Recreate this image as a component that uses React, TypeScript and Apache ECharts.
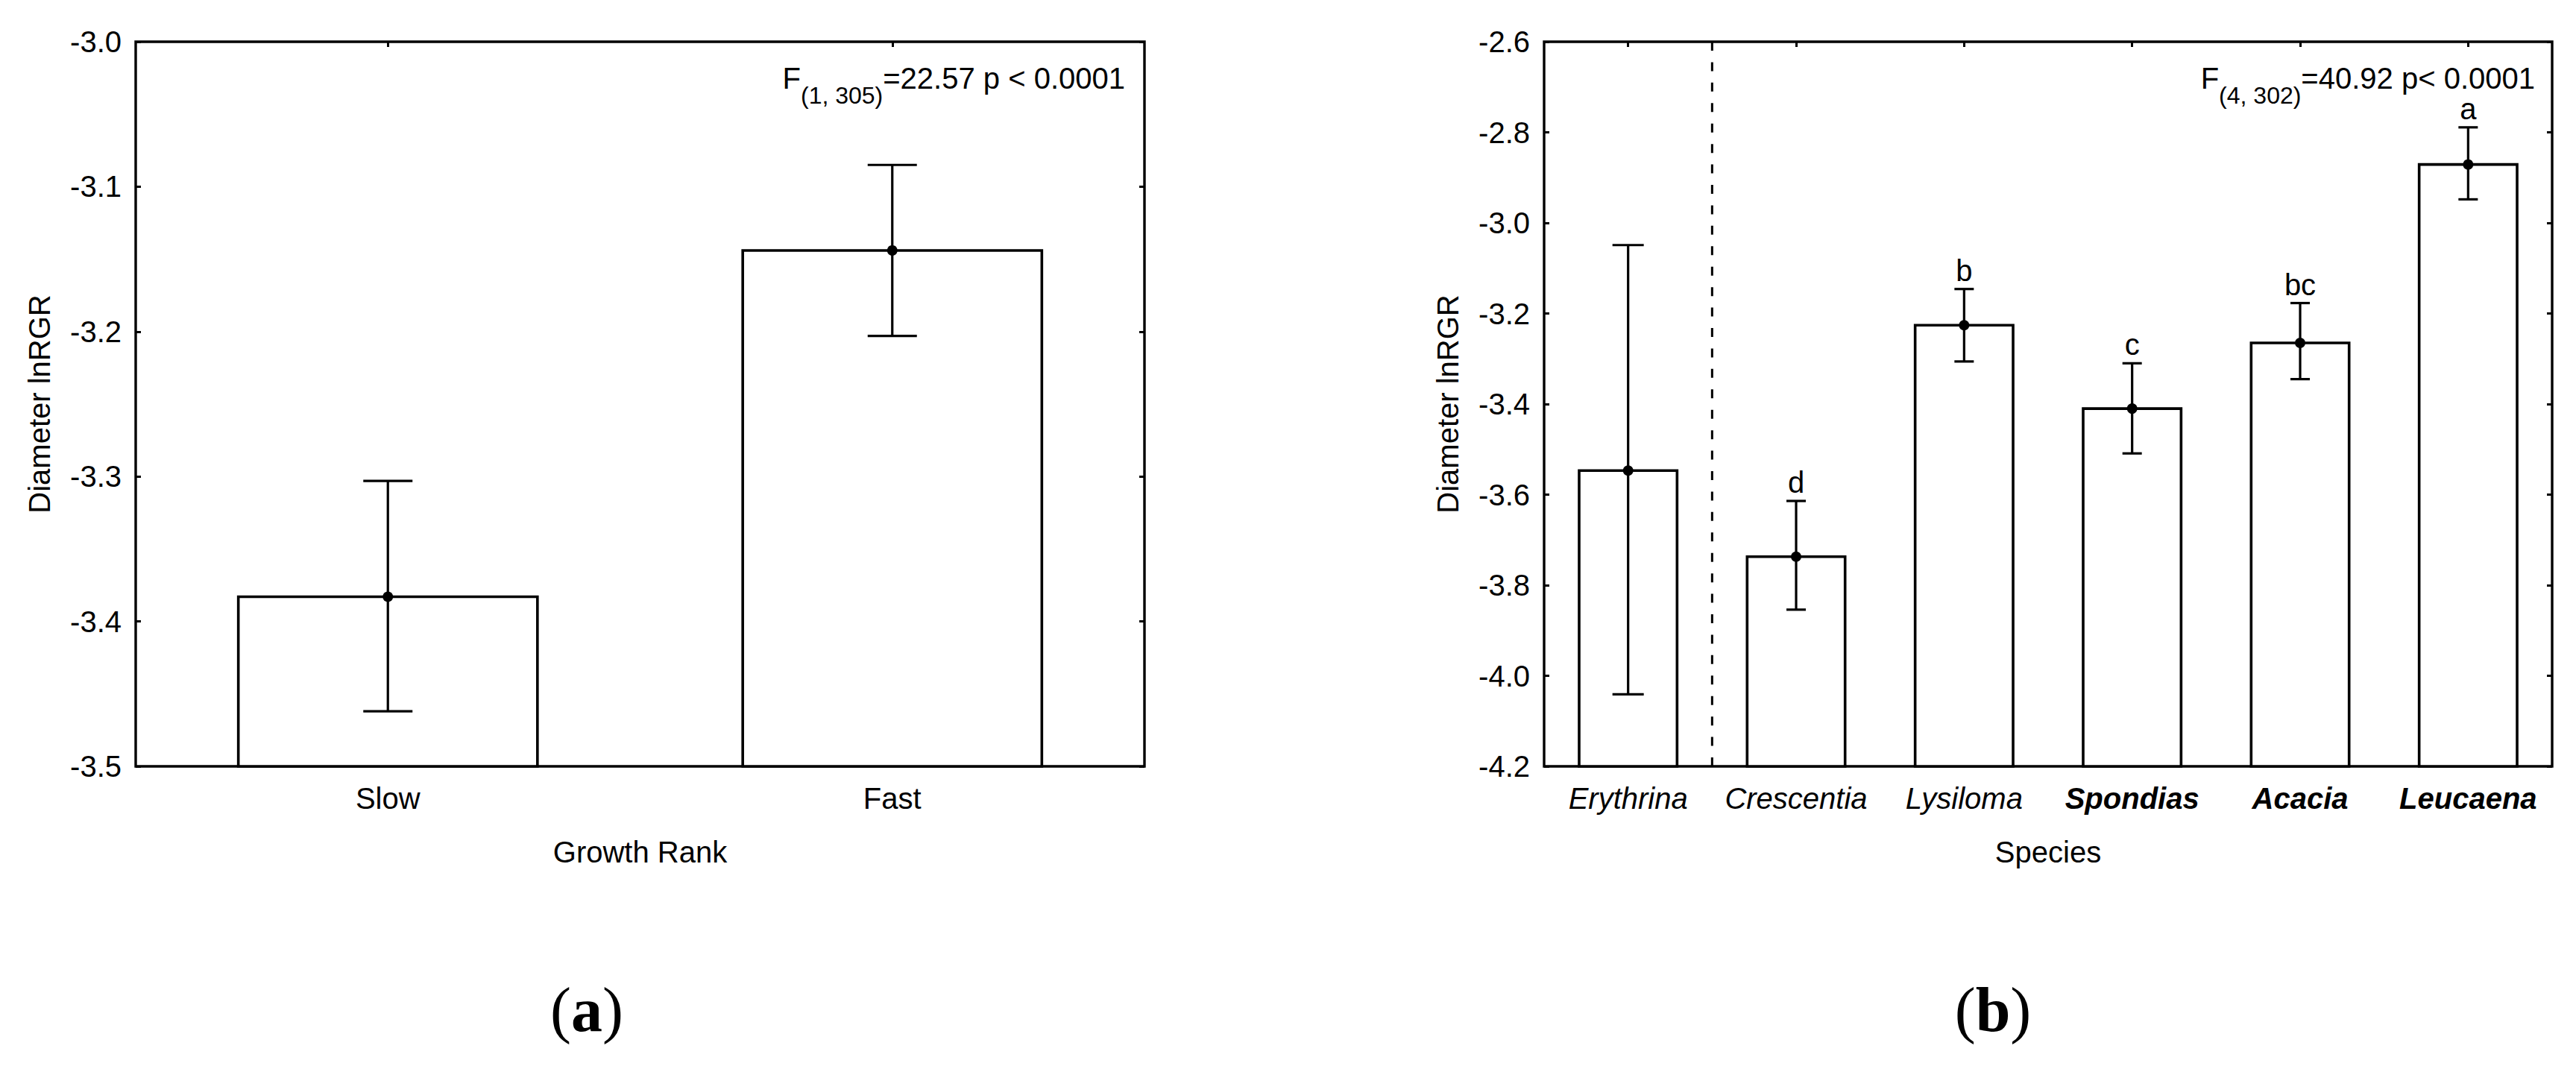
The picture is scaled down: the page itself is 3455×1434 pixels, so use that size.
import React, { useEffect, useRef } from 'react';
import * as echarts from 'echarts';

// ---------- Data: panel (a) ----------
const categoriesA = ['Slow', 'Fast'];
const meansA = [-3.383, -3.144];
const lowerA = [-3.462, -3.203];
const upperA = [-3.303, -3.085];
const yMinA = -3.5;
const yMaxA = -3.0;
const yStepA = 0.1;

// ---------- Data: panel (b) ----------
const categoriesB = ['Erythrina', 'Crescentia', 'Lysiloma', 'Spondias', 'Acacia', 'Leucaena'];
const meansB = [-3.547, -3.737, -3.226, -3.41, -3.265, -2.871];
const lowerB = [-4.041, -3.854, -3.306, -3.509, -3.345, -2.948];
const upperB = [-3.049, -3.614, -3.146, -3.31, -3.177, -2.789];
const lettersB = ['', 'd', 'b', 'c', 'bc', 'a'];
const boldB = ['Spondias', 'Acacia', 'Leucaena'];
const dividerAfterB = ['Erythrina'];
const yMinB = -4.2;
const yMaxB = -2.6;
const yStepB = 0.2;

// ---------- Styles ----------
const FONT = 'Liberation Sans';
const SERIF = 'Liberation Serif';
const FS = 40;
const W = 3455;
const H = 1434;

function makeRender(yMin: number, barFrac: number, capW: (cat: string) => number, cats: string[], letters?: string[]) {
  return (params: any, api: any) => {
    const i = params.dataIndex;
    const x = api.value(0);
    const mean = api.value(1);
    const lo = api.value(2);
    const hi = api.value(3);
    const base = api.coord([x, yMin]);
    const top = api.coord([x, mean]);
    const pLo = api.coord([x, lo]);
    const pHi = api.coord([x, hi]);
    const band = api.size([1, 0])[0];
    const w = band * barFrac;
    const cx = top[0];
    const cw = capW(cats[i]) / 2;
    const ls = { stroke: '#000', lineWidth: 3.2 };
    const children: any[] = [
      { type: 'rect', shape: { x: cx - w / 2, y: top[1], width: w, height: base[1] - top[1] }, style: { fill: '#fff', stroke: '#000', lineWidth: 3.6 } },
      { type: 'line', shape: { x1: cx, y1: pLo[1], x2: cx, y2: pHi[1] }, style: ls },
      { type: 'line', shape: { x1: cx - cw, y1: pHi[1], x2: cx + cw, y2: pHi[1] }, style: ls },
      { type: 'line', shape: { x1: cx - cw, y1: pLo[1], x2: cx + cw, y2: pLo[1] }, style: ls },
      { type: 'circle', shape: { cx, cy: top[1], r: 7 }, style: { fill: '#000' } },
    ];
    if (letters && letters[i]) {
      children.push({
        type: 'text',
        x: cx,
        y: pHi[1] - 5,
        style: {
          text: letters[i],
          fill: '#000',
          fontSize: FS,
          fontFamily: FONT,
          align: 'center',
          verticalAlign: 'bottom',
        },
      });
    }
    return { type: 'group', children };
  };
}

function xBottom(gridIndex: number, data: string[], name: string, rich: boolean) {
  return {
    type: 'category',
    gridIndex,
    data,
    position: 'bottom',
    name,
    nameLocation: 'middle',
    nameGap: 95,
    nameTextStyle: { fontSize: FS, color: '#000', fontFamily: FONT },
    axisLine: { show: false },
    axisTick: { show: true, inside: true, length: 7, alignWithLabel: true, lineStyle: { color: '#000', width: 3 } },
    axisLabel: rich
      ? {
          interval: 0,
          margin: 23,
          fontSize: FS,
          color: '#000',
          formatter: (v: string) => (boldB.indexOf(v) >= 0 ? `{bi|${v}}` : `{i|${v}}`),
          rich: {
            i: { fontSize: FS, fontStyle: 'italic', fontFamily: FONT, color: '#000' },
            bi: { fontSize: FS, fontStyle: 'italic', fontWeight: 'bold', fontFamily: FONT, color: '#000' },
          },
        }
      : { interval: 0, margin: 23, fontSize: FS, color: '#000', fontFamily: FONT },
    splitLine: { show: false },
  };
}

function xTop(gridIndex: number, data: string[]) {
  return {
    type: 'category',
    gridIndex,
    data,
    position: 'top',
    axisLine: { show: false },
    axisTick: { show: true, inside: true, length: 7, alignWithLabel: true, interval: 0, lineStyle: { color: '#000', width: 3 } },
    axisLabel: { show: false, interval: 0 },
    splitLine: { show: false },
  };
}

function yLeft(gridIndex: number, min: number, max: number, interval: number) {
  return {
    type: 'value',
    gridIndex,
    min,
    max,
    interval,
    position: 'left',
    name: 'Diameter lnRGR',
    nameLocation: 'middle',
    nameGap: 109,
    nameTextStyle: { fontSize: FS, color: '#000', fontFamily: FONT },
    axisLine: { show: false },
    axisTick: { show: true, inside: true, length: 7, lineStyle: { color: '#000', width: 3 } },
    axisLabel: { margin: 19, fontSize: FS, color: '#000', fontFamily: FONT, formatter: (v: number) => v.toFixed(1) },
    splitLine: { show: false },
  };
}

function yRight(gridIndex: number, min: number, max: number, interval: number) {
  return {
    type: 'value',
    gridIndex,
    min,
    max,
    interval,
    position: 'right',
    axisLine: { show: false },
    axisTick: { show: true, inside: true, length: 7, lineStyle: { color: '#000', width: 3 } },
    axisLabel: { show: false },
    splitLine: { show: false },
  };
}

function statText(right: number, sub: string, rest: string) {
  return {
    type: 'text',
    x: right,
    y: 85,
    style: {
      text: `{m|F}{s|${sub}}{m|${rest}}`,
      align: 'right',
      verticalAlign: 'top',
      fill: '#000',
      rich: {
        m: { fontSize: FS, fontFamily: FONT, lineHeight: 40, verticalAlign: 'top', fill: '#000' },
        s: { fontSize: 32, fontFamily: FONT, lineHeight: 32, padding: [27, 0, 0, 0], verticalAlign: 'top', fill: '#000' },
      },
    },
  };
}

function panelLabel(x: number, letter: string) {
  return {
    type: 'text',
    x,
    y: 1354,
    style: {
      text: `{p|(}{b|${letter}}{p|)}`,
      align: 'center',
      verticalAlign: 'middle',
      fill: '#000',
      rich: {
        p: { fontSize: 84, fontFamily: SERIF, fill: '#000' },
        b: { fontSize: 84, fontFamily: SERIF, fontWeight: 'bold', fill: '#000' },
      },
    },
  };
}

export default function App() {
  const ref = useRef<HTMLDivElement>(null);
  useEffect(() => {
    if (!ref.current) return;
    const chart = echarts.init(ref.current, undefined, { renderer: 'svg' });
    const dataA = categoriesA.map((c, i) => [i, meansA[i], lowerA[i], upperA[i]]);
    const dataB = categoriesB.map((c, i) => [i, meansB[i], lowerB[i], upperB[i]]);
    const dividerData = dividerAfterB.map((c) => [categoriesB.indexOf(c)]);

    const option: any = {
      animation: false,
      backgroundColor: '#fff',
      textStyle: { fontFamily: FONT, color: '#000' },
      grid: [
        { left: 182, top: 56, width: 1353, height: 972, show: true, borderColor: '#000', borderWidth: 3.4, backgroundColor: 'transparent' },
        { left: 2071, top: 56, width: 1352, height: 972, show: true, borderColor: '#000', borderWidth: 3.4, backgroundColor: 'transparent' },
      ],
      xAxis: [
        xBottom(0, categoriesA, 'Growth Rank', false),
        xTop(0, categoriesA),
        xBottom(1, categoriesB, 'Species', true),
        xTop(1, categoriesB),
      ],
      yAxis: [
        yLeft(0, yMinA, yMaxA, yStepA),
        yRight(0, yMinA, yMaxA, yStepA),
        yLeft(1, yMinB, yMaxB, yStepB),
        yRight(1, yMinB, yMaxB, yStepB),
      ],
      series: [
        {
          type: 'custom',
          xAxisIndex: 0,
          yAxisIndex: 0,
          data: dataA,
          encode: { x: 0, y: [1, 2, 3] },
          renderItem: makeRender(yMinA, 0.593, () => 66, categoriesA),
          z: 3,
        },
        {
          type: 'custom',
          xAxisIndex: 2,
          yAxisIndex: 2,
          data: dataB,
          encode: { x: 0, y: [1, 2, 3] },
          renderItem: makeRender(yMinB, 0.583, (c) => (c === 'Erythrina' ? 42 : 26), categoriesB, lettersB),
          z: 3,
        },
        {
          type: 'custom',
          xAxisIndex: 2,
          yAxisIndex: 2,
          data: dividerData,
          encode: { x: 0 },
          renderItem: (params: any, api: any) => {
            const idx = api.value(0);
            const band = api.size([1, 0])[0];
            const pTop = api.coord([idx, yMaxB]);
            const pBot = api.coord([idx, yMinB]);
            const x = pTop[0] + band / 2;
            const len = pBot[1] - pTop[1];
            const dash = 12;
            const gap = (len - dash) / 35 - dash;
            return {
              type: 'line',
              shape: { x1: x, y1: pTop[1], x2: x, y2: pBot[1] },
              style: { stroke: '#000', lineWidth: 3, lineDash: [dash, gap] },
            };
          },
          z: 2,
        },
      ],
      graphic: [
        statText(1509, '(1, 305)', '=22.57 p < 0.0001'),
        statText(3400, '(4, 302)', '=40.92 p< 0.0001'),
        panelLabel(787, 'a'),
        panelLabel(2673, 'b'),
      ],
    };
    chart.setOption(option);
    return () => chart.dispose();
  }, []);
  return <div ref={ref} style={{ position: 'fixed', left: 0, top: 0, width: W, height: H }} />;
}
